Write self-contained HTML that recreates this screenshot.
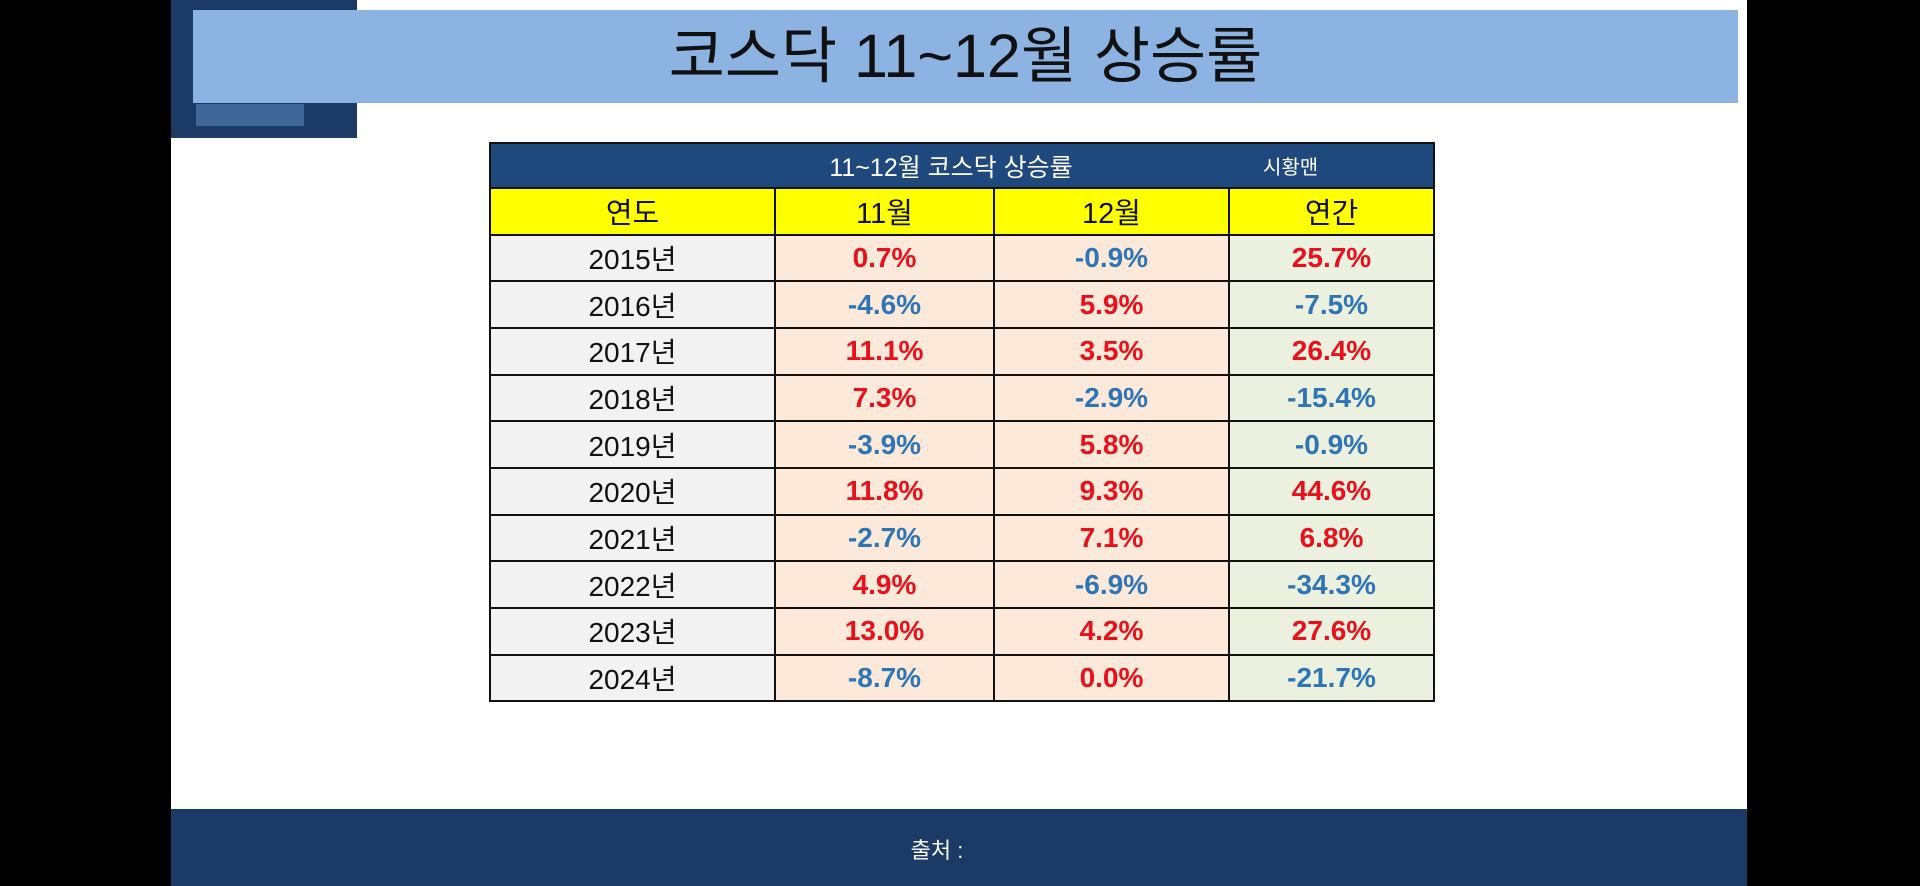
<!DOCTYPE html>
<html lang="ko">
<head>
<meta charset="utf-8">
<style>
  html,body{margin:0;padding:0;}
  body{width:1920px;height:886px;position:relative;overflow:hidden;background:#fff;
    font-family:"Liberation Sans","Noto Sans CJK KR",sans-serif;}
  .abs{position:absolute;}
  #tbl{position:absolute;left:489px;top:142px;border-collapse:collapse;table-layout:fixed;}
  #tbl td{border:2px solid #111;padding:0;text-align:center;white-space:nowrap;}
  .hdr td{background:#1f497d;height:43px;color:#fff;}
  .yel td{background:#ffff00;height:44.5px;font-size:29px;color:#111;}
  .row td{height:44.7px;font-size:28px;}
  .yr{background:#f2f2f2;color:#111;}
  .mo{background:#fde9d9;font-weight:bold;}
  .an{background:#ebf1de;font-weight:bold;}
  .pos{color:#e8101a;}
  .neg{color:#2e75b6;}
</style>
</head>
<body>
<div class="abs" style="left:0;top:0;width:171px;height:886px;background:#000;"></div>
<div class="abs" style="left:1747px;top:0;width:173px;height:886px;background:#000;"></div>
<div class="abs" style="left:171px;top:0;width:186px;height:138px;background:#1b3a66;"></div>
<div class="abs" style="left:196px;top:104px;width:108px;height:22px;background:#3f6797;"></div>
<div class="abs" style="left:193px;top:10px;width:1545px;height:93px;background:#8db3e2;"></div>
<div class="abs" style="left:193px;top:10px;width:1545px;height:93px;line-height:93px;text-align:center;font-size:61px;color:#111;">코스닥 11~12월 상승률</div>

<table id="tbl">
  <colgroup><col style="width:285px"><col style="width:219px"><col style="width:235px"><col style="width:205px"></colgroup>
  <tr class="hdr">
    <td colspan="4" style="position:relative;">
      <span style="position:absolute;left:0;width:920px;top:4px;font-size:25px;">11~12월 코스닥 상승률</span>
      <span style="position:absolute;left:772px;top:7px;font-size:20px;">시황맨</span>
    </td>
  </tr>
  <tr class="yel">
    <td>연도</td>
    <td>11월</td>
    <td>12월</td>
    <td>연간</td>
  </tr>
</table>

<div class="abs" style="left:171px;top:809px;width:1576px;height:77px;background:#1b3a66;"></div>
<div class="abs" style="left:880px;top:833px;width:114px;text-align:center;font-size:22px;color:#fff;">출처 :</div>

<script>
const years = [2015,2016,2017,2018,2019,2020,2021,2022,2023,2024];
const nov = [0.7,-4.6,11.1,7.3,-3.9,11.8,-2.7,4.9,13.0,-8.7];
const dec = [-0.9,5.9,3.5,-2.9,5.8,9.3,7.1,-6.9,4.2,0.0];
const annual = [25.7,-7.5,26.4,-15.4,-0.9,44.6,6.8,-34.3,27.6,-21.7];

const tbl = document.getElementById('tbl');
function cell(tr, cls, text, name){
  const td = document.createElement('td');
  td.className = cls;
  td.textContent = text;
  
  
  tr.appendChild(td);
}
function fmt(v){ return v.toFixed(1) + '%'; }
function sign(v){ return v < 0 ? 'neg' : 'pos'; }
years.forEach((y, i) => {
  const tr = document.createElement('tr');
  tr.className = 'row';
  
  
  cell(tr, 'yr', y + '년', 'year-' + y);
  cell(tr, 'mo ' + sign(nov[i]), fmt(nov[i]), 'nov-' + y);
  cell(tr, 'mo ' + sign(dec[i]), fmt(dec[i]), 'dec-' + y);
  cell(tr, 'an ' + sign(annual[i]), fmt(annual[i]), 'annual-' + y);
  tbl.appendChild(tr);
});
</script>
</body>
</html>
